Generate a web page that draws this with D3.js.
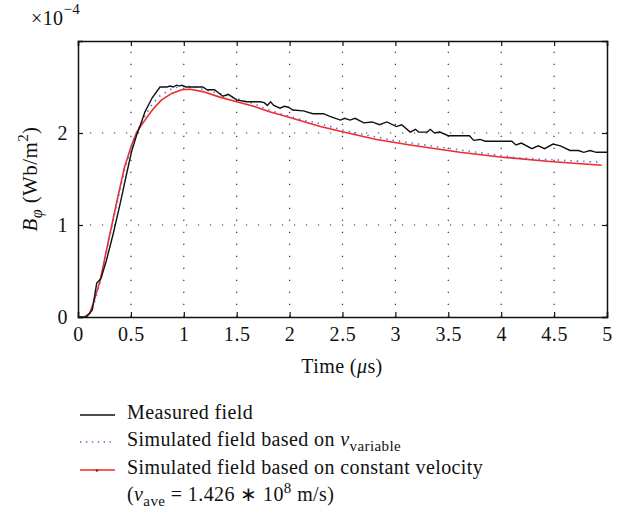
<!DOCTYPE html>
<html>
<head>
<meta charset="utf-8">
<style>
body { margin: 0; background: #fff; }
text { font-family: "Liberation Serif", "Times New Roman", serif; fill: #111; letter-spacing: 0.4px; }
.grid line { stroke: #333; stroke-width: 1.2; stroke-dasharray: 1.2,10.8; }
</style>
</head>
<body>
<script src="https://cdn.jsdelivr.net/npm/d3@7"></script>
<script>

// time in microseconds, field in 1e-4 Wb/m^2
var measured = [[0,0],[0.08,0],[0.135,0.076],[0.177,0.37],[0.217,0.42],[0.27,0.62],[0.334,0.91],[0.40,1.24],
  [0.46,1.56],[0.507,1.80],[0.555,1.98],[0.60,2.12],[0.633,2.23],[0.70,2.38],[0.775,2.50],[0.84,2.50],
  [0.87,2.51],[0.90,2.50],[0.93,2.52],[0.96,2.51],[0.98,2.52],[1.02,2.50],[1.18,2.50],[1.22,2.47],
  [1.29,2.47],[1.37,2.40],[1.42,2.42],[1.50,2.36],[1.59,2.34],[1.72,2.34],[1.76,2.33],[1.79,2.30],
  [1.82,2.34],[1.85,2.30],[1.91,2.27],[1.95,2.29],[1.99,2.28],[2.03,2.25],[2.13,2.24],[2.22,2.21],
  [2.32,2.21],[2.38,2.18],[2.48,2.14],[2.52,2.16],[2.57,2.14],[2.62,2.16],[2.70,2.11],[2.78,2.12],
  [2.85,2.09],[2.92,2.12],[3.01,2.07],[3.06,2.09],[3.14,2.01],[3.19,2.04],[3.22,2.01],[3.30,2.01],
  [3.33,2.04],[3.37,2.00],[3.42,2.01],[3.50,1.97],[3.70,1.97],[3.74,1.92],[3.80,1.93],[3.85,1.91],
  [4.10,1.91],[4.14,1.87],[4.19,1.89],[4.29,1.83],[4.35,1.86],[4.41,1.83],[4.49,1.88],[4.56,1.86],
  [4.65,1.81],[4.73,1.81],[4.78,1.79],[4.84,1.81],[4.90,1.79],[5.0,1.79]];

var simVariable = [[0.06,0],[0.11,0.03],[0.15,0.14],[0.21,0.38],[0.29,0.82],[0.37,1.24],[0.44,1.60],
  [0.51,1.86],[0.56,2.02],[0.63,2.18],[0.70,2.31],[0.77,2.40],[0.84,2.45],[0.90,2.49],[1.0,2.51],
  [1.1,2.50],[1.2,2.47],[1.37,2.42],[1.48,2.38],[1.66,2.32],[1.78,2.26],[1.91,2.21],[2.0,2.18],
  [2.13,2.14],[2.26,2.11],[2.54,2.02],[2.98,1.92],[3.58,1.82],[4.15,1.73],[4.95,1.68]];

var simConstant = [[0.06,0],[0.11,0.04],[0.145,0.15],[0.21,0.40],[0.29,0.84],[0.366,1.25],[0.44,1.63],
  [0.507,1.87],[0.555,2.01],[0.633,2.14],[0.71,2.26],[0.79,2.36],[0.886,2.43],[0.98,2.47],[1.06,2.475],
  [1.18,2.45],[1.34,2.39],[1.50,2.34],[1.66,2.29],[1.81,2.23],[1.97,2.18],[2.29,2.07],[2.51,2.01],
  [2.82,1.93],[3.14,1.87],[3.61,1.79],[3.99,1.74],[4.46,1.69],[4.95,1.65]];

var xTicks = [0, 0.5, 1, 1.5, 2, 2.5, 3, 3.5, 4, 4.5, 5];
var yTicks = [0, 1, 2];
var legendLabels = ["Measured field", "Simulated field based on ", "Simulated field based on constant velocity"];

var width = 620, height = 511;
var mLeft = 78, mRight = 607, mTop = 41, mBottom = 317;

var svg = d3.select("body").append("svg")
    .attr("width", width)
    .attr("height", height);

var x = d3.scaleLinear().domain([0, 5]).range([mLeft, mRight]);
var y = d3.scaleLinear().domain([0, 3]).range([mBottom, mTop]);

// grid
var grid = svg.append("g").attr("class", "grid");
grid.selectAll(".vg").data(xTicks.filter(function(d){ return d > 0 && d < 5; }))
  .enter().append("line")
  .attr("x1", function(d){ return x(d); }).attr("x2", function(d){ return x(d); })
  .attr("y1", mBottom).attr("y2", mTop);
grid.selectAll(".hg").data([1, 2])
  .enter().append("line")
  .attr("y1", function(d){ return y(d); }).attr("y2", function(d){ return y(d); })
  .attr("x1", mLeft).attr("x2", mRight);

// lines
var line = d3.line()
    .x(function(d){ return x(d[0]); })
    .y(function(d){ return y(d[1]); });

svg.append("path").datum(simConstant)
  .attr("d", line)
  .attr("fill", "none")
  .attr("stroke", "#f22a2a")
  .attr("stroke-width", 1.6);

svg.append("path").datum(simVariable)
  .attr("d", line)
  .attr("fill", "none")
  .attr("stroke", "#4a6fd8")
  .attr("stroke-width", 1.6)
  .attr("stroke-dasharray", "1.4,5");

svg.append("path").datum(measured)
  .attr("d", line)
  .attr("fill", "none")
  .attr("stroke", "#111")
  .attr("stroke-width", 1.4);

// axes (box with inward ticks)
var tl = 5;
svg.append("g").attr("transform", "translate(0," + mBottom + ")")
  .call(d3.axisBottom(x).tickValues(xTicks).tickSize(-tl).tickPadding(10).tickFormat(d3.format("")));
svg.append("g").attr("transform", "translate(0," + mTop + ")")
  .call(d3.axisTop(x).tickValues(xTicks).tickSize(-tl).tickFormat(""));
svg.append("g").attr("transform", "translate(" + mLeft + ",0)")
  .call(d3.axisLeft(y).tickValues(yTicks).tickSize(-tl).tickPadding(10).tickFormat(d3.format("")));
svg.append("g").attr("transform", "translate(" + mRight + ",0)")
  .call(d3.axisRight(y).tickValues(yTicks).tickSize(-tl).tickFormat(""));

svg.selectAll(".domain").attr("stroke", "#111").attr("stroke-width", 1.5);
svg.selectAll(".tick line").attr("stroke", "#111").attr("stroke-width", 1.2);
svg.selectAll(".tick text")
  .style("font-family", "Liberation Serif, serif")
  .style("font-size", "20px")
  .style("letter-spacing", "0.6px")
  .attr("fill", "#111");

// exponent
var ex = svg.append("text").attr("x", 31).attr("y", 25).style("font-size", "20px");
ex.append("tspan").text("\u00d710");
ex.append("tspan").attr("dy", -11).style("font-size", "15px").text("\u22124");

// axis titles
svg.append("text")
  .attr("x", 342).attr("y", 373)
  .attr("text-anchor", "middle")
  .style("font-size", "20px")
  .call(function(t){
    t.append("tspan").text("Time (");
    t.append("tspan").style("font-style", "italic").text("\u03bc");
    t.append("tspan").text("s)");
  });

var yl = svg.append("text")
  .attr("transform", "translate(37,179) rotate(-90)")
  .attr("text-anchor", "middle")
  .style("font-size", "21px");
yl.append("tspan").style("font-style", "italic").text("B");
yl.append("tspan").attr("dy", 5).style("font-style", "italic").style("font-size", "16px").text("\u03c6");
yl.append("tspan").attr("dy", -5).text(" (Wb/m");
yl.append("tspan").attr("dy", -9).style("font-size", "15px").text("2");
yl.append("tspan").attr("dy", 9).text(")");

// legend
var lg = svg.append("g");
var rows = [415, 442, 470];
lg.append("line").attr("x1", 80).attr("x2", 115).attr("y1", rows[0]).attr("y2", rows[0])
  .attr("stroke", "#111").attr("stroke-width", 1.4);
lg.append("line").attr("x1", 80).attr("x2", 115).attr("y1", rows[1]).attr("y2", rows[1])
  .attr("stroke", "#4a6fd8").attr("stroke-width", 1.4).attr("stroke-dasharray", "1.4,4.5");
lg.append("line").attr("x1", 80).attr("x2", 115).attr("y1", rows[2]).attr("y2", rows[2])
  .attr("stroke", "#f22a2a").attr("stroke-width", 1.6);
lg.append("circle").attr("cx", 97).attr("cy", rows[2] + 0.5).attr("r", 1.3).attr("fill", "#b01010");

lg.append("text").attr("x", 127).attr("y", 419).style("font-size", "20px").text(legendLabels[0]);
var t2 = lg.append("text").attr("x", 127).attr("y", 446).style("font-size", "20px");
t2.append("tspan").text(legendLabels[1]);
t2.append("tspan").style("font-style", "italic").text("v");
t2.append("tspan").attr("dy", 5).style("font-size", "15px").text("variable");
lg.append("text").attr("x", 127).attr("y", 474).style("font-size", "20px").text(legendLabels[2]);
var t4 = lg.append("text").attr("x", 127).attr("y", 501).style("font-size", "20px");
t4.append("tspan").text("(");
t4.append("tspan").style("font-style", "italic").text("v");
t4.append("tspan").attr("dy", 5).style("font-size", "15px").text("ave");
t4.append("tspan").attr("dy", -5).text(" = 1.426 \u2217 10");
t4.append("tspan").attr("dy", -8).style("font-size", "15px").text("8");
t4.append("tspan").attr("dy", 8).text(" m/s)");

</script>
</body>
</html>
